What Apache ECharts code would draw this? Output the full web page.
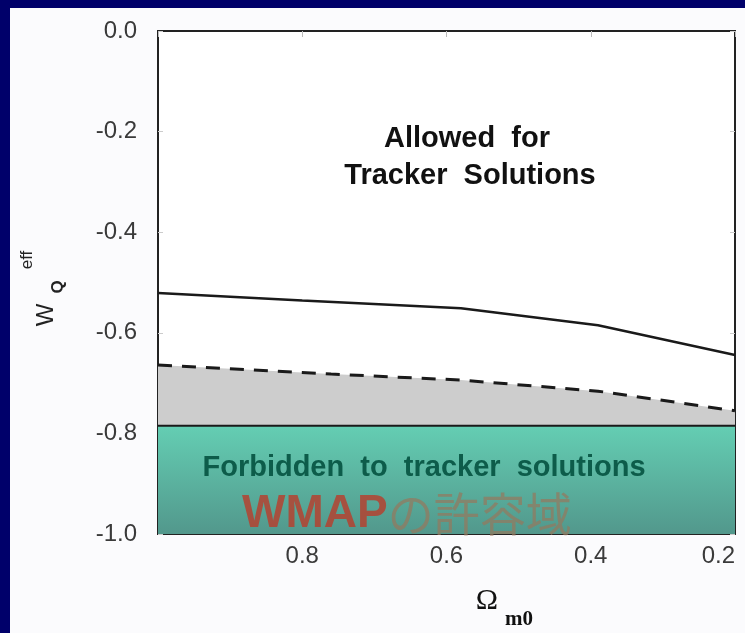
<!DOCTYPE html>
<html>
<head>
<meta charset="utf-8">
<script src="https://cdn.jsdelivr.net/npm/echarts@6/dist/echarts.min.js"></script>
<style>
html,body{margin:0;padding:0;background:#fbfbfd;}
#chart{width:745px;height:633px;}
</style>
</head>
<body>
<div id="chart"></div>
<script>
// ---- data ----
var xTicks = [1.0, 0.8, 0.6, 0.4, 0.2];
var yTicks = [0.0, -0.2, -0.4, -0.6, -0.8, -1.0];
var solidX = [1.0, 0.8, 0.58, 0.39, 0.2];
var solidY = [-0.521, -0.536, -0.551, -0.585, -0.644];
var dashX = [1.0, 0.76, 0.58, 0.39, 0.2];
var dashY = [-0.664, -0.682, -0.694, -0.716, -0.755];
var wmapX = [1.0, 0.2];
var wmapY = [-0.785, -0.785];
var textAllowed = ['Allowed  for', 'Tracker  Solutions'];
var textForbidden = 'Forbidden  to  tracker  solutions';
var textWmapA = 'WMAP';
var textWmapB = 'の許容域';

function zip(xs, ys) { return xs.map(function (x, i) { return [x, ys[i]]; }); }

var chart = echarts.init(document.getElementById('chart'), null, {renderer: 'canvas'});
var F = '"Liberation Sans", Arial, Helvetica, sans-serif';
var navy = '#00006a';

var option = {
  backgroundColor: '#fbfbfd',
  animation: false,
  grid: {left: 158, top: 31, width: 577, height: 503, show: true,
         backgroundColor: '#ffffff', borderColor: '#222', borderWidth: 2},
  xAxis: [{
    type: 'value', min: 0.2, max: 1.0, interval: 0.2, inverse: true,
    axisLine: {show: true, lineStyle: {color: '#222', width: 2}},
    axisTick: {show: false},
    splitLine: {show: false},
    axisLabel: {
      margin: 10, color: '#3a3a3a', fontSize: 24, fontFamily: F,
      alignMinLabel: 'right',
      formatter: function (v) { return v > 0.99 ? '' : v.toFixed(1); }
    }
  }, {
    type: 'value', min: 0.2, max: 1.0, interval: 0.2, inverse: true, position: 'top',
    axisLine: {show: false},
    axisTick: {show: true, inside: true, length: 6, lineStyle: {color: '#bbb'}},
    axisLabel: {show: false}, splitLine: {show: false}
  }],
  yAxis: [{
    type: 'value', min: -1.0, max: 0.0, interval: 0.2,
    axisLine: {show: true, lineStyle: {color: '#222', width: 2}},
    axisTick: {show: true, inside: true, length: 5, lineStyle: {color: '#ccc'}},
    splitLine: {show: false},
    axisLabel: {
      margin: 21, color: '#3a3a3a', fontSize: 24, fontFamily: F,
      formatter: function (v) { return v.toFixed(1); }
    }
  }, {
    type: 'value', min: -1.0, max: 0.0, interval: 0.2, position: 'right',
    axisLine: {show: false},
    axisTick: {show: true, inside: true, length: 5, lineStyle: {color: '#ccc'}},
    axisLabel: {show: false}, splitLine: {show: false}
  }],
  series: [
    {
      name: 'dashed', type: 'line', data: zip(dashX, dashY), symbol: 'none', z: 2,
      lineStyle: {color: '#1a1a1a', width: 3, type: [14, 10]},
      areaStyle: {color: '#cdcdcd', opacity: 1, origin: 'start'}
    },
    {
      name: 'wmap', type: 'line', data: zip(wmapX, wmapY), symbol: 'none', z: 3,
      lineStyle: {color: '#1a1a1a', width: 2},
      areaStyle: {
        opacity: 1, origin: 'start',
        color: new echarts.graphic.LinearGradient(0, 0, 0, 1, [
          {offset: 0, color: '#64ceb3'}, {offset: 1, color: '#52988c'}
        ])
      }
    },
    {
      name: 'solid', type: 'line', data: zip(solidX, solidY), symbol: 'none', z: 4,
      lineStyle: {color: '#1a1a1a', width: 2.5}
    }
  ],
  graphic: [
    {type: 'rect', left: 0, top: 0, shape: {width: 745, height: 8}, style: {fill: navy}, z: 100},
    {type: 'rect', left: 0, top: 0, shape: {width: 10, height: 633}, style: {fill: navy}, z: 100},
    {type: 'text', x: 467, y: 139, z: 50, style: {text: textAllowed[0], font: 'bold 29px ' + F, fill: '#111', align: 'center', verticalAlign: 'middle'}},
    {type: 'text', x: 470, y: 176, z: 50, style: {text: textAllowed[1], font: 'bold 29px ' + F, fill: '#111', align: 'center', verticalAlign: 'middle'}},
    {type: 'text', x: 424, y: 468, z: 50, style: {text: textForbidden, font: 'bold 29px ' + F, fill: '#0d5c4a', align: 'center', verticalAlign: 'middle'}},
    {type: 'text', x: 242, y: 514, z: 50, style: {
      text: '{a|' + textWmapA + '}{b|' + textWmapB + '}', align: 'left', verticalAlign: 'middle',
      rich: {
        a: {fontFamily: F, fontWeight: 'bold', fontSize: 46, fill: 'rgba(180,66,48,0.85)'},
        b: {fontFamily: '"Noto Sans CJK JP", sans-serif', fontSize: 46, fontWeight: 'normal', fill: 'rgba(150,120,92,0.7)'}
      }
    }},
    // y axis title w_Q^eff (rotated)
    {type: 'text', x: 46, y: 315, rotation: Math.PI / 2, z: 50, style: {text: 'W', font: '24px ' + F, fill: '#222', align: 'center', verticalAlign: 'middle'}},
    {type: 'text', x: 58, y: 287, rotation: Math.PI / 2, z: 50, style: {text: 'Q', font: 'bold 17px ' + F, fill: '#222', align: 'center', verticalAlign: 'middle'}},
    {type: 'text', x: 27, y: 260, rotation: Math.PI / 2, z: 50, style: {text: 'eff', font: '17px ' + F, fill: '#222', align: 'center', verticalAlign: 'middle'}},
    // x axis title Omega_m0
    {type: 'text', x: 487, y: 601, z: 50, style: {text: 'Ω', font: '30px "Liberation Serif", "DejaVu Serif", serif', fill: '#111', align: 'center', verticalAlign: 'middle'}},
    {type: 'text', x: 505, y: 620, z: 50, style: {text: 'm0', font: 'bold 21px "Liberation Serif", "DejaVu Serif", serif', fill: '#111', align: 'left', verticalAlign: 'middle'}}
  ]
};
chart.setOption(option);
</script>
</body>
</html>
